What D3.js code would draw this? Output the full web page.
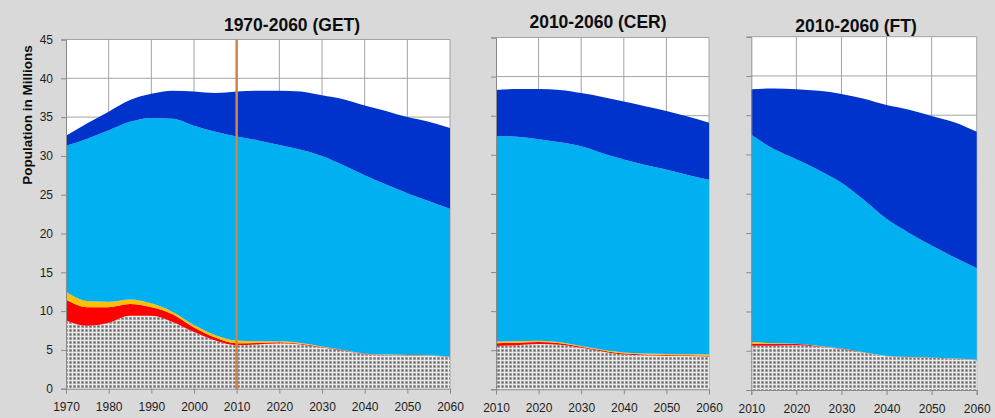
<!DOCTYPE html>
<html><head><meta charset="utf-8">
<script src="https://cdn.jsdelivr.net/npm/d3@7"></script>
<style>
html,body{margin:0;padding:0;background:#d9d9d9;}
svg{display:block;font-family:"Liberation Sans",Arial,sans-serif;}
</style></head>
<body>
<svg id="chart" width="995" height="418"></svg>
<script>
// ---------- DATA ----------
const layerNames = ["dotted", "red", "yellow", "lightBlue", "darkBlue"];
const layerColors = ["url(#dots)", "#ff0000", "#ffc000", "#00b0f0", "#0033cc"];

const getYears   = [1970,1975,1980,1985,1990,1995,2000,2005,2010,2015,2020,2025,2030,2035,2040,2045,2050,2055,2060];
const getDotted  = [8.8,8.1,8.5,9.4,9.4,8.6,7.3,6.2,5.6,5.7,5.85,5.7,5.3,4.9,4.45,4.3,4.25,4.25,4.05];
const getRed     = [2.7,2.4,2.0,1.5,1.1,1.0,0.6,0.4,0.25,0.2,0.15,0.1,0.08,0.06,0.05,0.05,0.05,0.03,0.03];
const getYellow  = [1.0,0.8,0.7,0.6,0.5,0.3,0.3,0.3,0.35,0.2,0.1,0.1,0.07,0.04,0.05,0.05,0.05,0.04,0.04];
const getLight   = [18.8,20.9,22.1,22.9,23.9,24.9,25.7,26.2,26.3,25.9,25.3,24.9,24.55,23.8,22.95,21.9,20.85,19.88,19.08];
const getDark    = [1.3,2.0,2.4,2.8,3.1,3.6,4.4,5.0,5.8,6.4,7.0,7.5,7.8,8.5,9.0,9.5,9.8,10.2,10.4];

const cerYears   = [2010,2015,2020,2025,2030,2035,2040,2045,2050,2055,2060];
const cerDotted  = [5.55,5.65,5.8,5.7,5.3,4.85,4.45,4.35,4.3,4.25,4.2];
const cerRed     = [0.35,0.3,0.25,0.2,0.15,0.12,0.12,0.1,0.1,0.1,0.1];
const cerYellow  = [0.2,0.2,0.15,0.12,0.1,0.1,0.13,0.12,0.1,0.12,0.15];
const cerLight   = [26.3,26.15,25.8,25.58,25.55,25.13,24.7,24.13,23.6,22.93,22.35];
const cerDark    = [5.9,6.1,6.4,6.7,6.8,7.2,7.4,7.5,7.5,7.5,7.3];

const ftYears    = [2010,2015,2020,2025,2030,2035,2040,2045,2050,2055,2060];
const ftDotted   = [5.65,5.65,5.7,5.5,5.2,4.75,4.3,4.15,4.1,3.95,3.8];
const ftRed      = [0.25,0.2,0.15,0.08,0.06,0.04,0.03,0.03,0.03,0.03,0.03];
const ftYellow   = [0.2,0.12,0.05,0.04,0.04,0.03,0.02,0.02,0.02,0.02,0.02];
const ftLight    = [26.4,24.73,23.5,22.38,21.1,19.38,17.45,15.8,14.25,12.9,11.65];
const ftDark     = [5.8,7.7,8.9,10.1,11.3,12.9,14.5,15.7,16.5,17.2,17.4];

const yTicks     = [0,5,10,15,20,25,30,35,40,45];
const getXTicks  = [1970,1980,1990,2000,2010,2020,2030,2040,2050,2060];
const futXTicks  = [2010,2020,2030,2040,2050,2060];
const titles     = ["1970-2060 (GET)", "2010-2060 (CER)", "2010-2060 (FT)"];
const yAxisTitle = "Population in Millions";
const markerYear = 2010;

// ---------- LAYOUT ----------
const svg = d3.select("#chart");
const defs = svg.append("defs");
const pat = defs.append("pattern").attr("id","dots").attr("patternUnits","userSpaceOnUse")
  .attr("width",4).attr("height",4);
pat.append("rect").attr("width",4).attr("height",4).attr("fill","#c2c2c2");
pat.append("rect").attr("x",0).attr("y",0).attr("width",4).attr("height",1).attr("fill","#e8e8e8");
pat.append("rect").attr("x",0).attr("y",0).attr("width",1).attr("height",4).attr("fill","#e8e8e8");
pat.append("rect").attr("x",1.5).attr("y",1.5).attr("width",2).attr("height",2).attr("fill","#666666");

const panels = [
  {years:getYears, layers:[getDotted,getRed,getYellow,getLight,getDark], xTicks:getXTicks,
   x0:66, x1:450, yTop:39.5, yBot:388.7, title:titles[0], tx:292, ty:31, yLabels:true, marker:true},
  {years:cerYears, layers:[cerDotted,cerRed,cerYellow,cerLight,cerDark], xTicks:futXTicks,
   x0:496, x1:709, yTop:37.5, yBot:389.3, title:titles[1], tx:598, ty:28, yLabels:false, marker:false},
  {years:ftYears, layers:[ftDotted,ftRed,ftYellow,ftLight,ftDark], xTicks:futXTicks,
   x0:751.3, x1:976.7, yTop:36.7, yBot:390, title:titles[2], tx:856, ty:32, yLabels:false, marker:false}
];

panels.forEach(p => {
  const x = d3.scaleLinear().domain([p.years[0], p.years[p.years.length-1]]).range([p.x0, p.x1]);
  const y = d3.scaleLinear().domain([0,45]).range([p.yBot, p.yTop]);
  const g = svg.append("g");

  g.append("rect").attr("x",p.x0).attr("y",p.yTop).attr("width",p.x1-p.x0).attr("height",p.yBot-p.yTop).attr("fill","#ffffff");

  g.append("g").selectAll("line").data(yTicks.filter(t=>t>0)).join("line")
    .attr("x1",p.x0).attr("x2",p.x1).attr("y1",d=>y(d)).attr("y2",d=>y(d))
    .attr("stroke","#a3a3a3").attr("stroke-width",1);
  g.append("g").selectAll("line").data(p.xTicks.slice(1)).join("line")
    .attr("x1",d=>x(d)).attr("x2",d=>x(d)).attr("y1",p.yTop).attr("y2",p.yBot)
    .attr("stroke","#a3a3a3").attr("stroke-width",1);

  const rows = p.years.map((yr,i) => {
    const o = {year:yr};
    layerNames.forEach((n,k) => o[n] = p.layers[k][i]);
    return o;
  });
  const series = d3.stack().keys(layerNames)(rows);
  const area = d3.area().curve(d3.curveMonotoneX)
    .x(d=>x(d.data.year)).y0(d=>y(d[0])).y1(d=>y(d[1]));
  g.append("g").selectAll("path").data(series).join("path")
    .attr("d",area).attr("fill",(d,i)=>layerColors[i]);

  const yAxis = d3.axisLeft(y).tickValues(yTicks).tickSize(5).tickPadding(8)
    .tickFormat(p.yLabels ? d3.format("d") : "");
  const ya = g.append("g").attr("transform",`translate(${p.x0},0)`).call(yAxis);
  const xAxis = d3.axisBottom(x).tickValues(p.xTicks).tickSize(5).tickPadding(9).tickFormat(d3.format("d"));
  const xa = g.append("g").attr("transform",`translate(0,${p.yBot})`).call(xAxis);
  [ya,xa].forEach(a => {
    a.select(".domain").attr("stroke","#8a8a8a").attr("stroke-width",1);
    a.selectAll(".tick line").attr("stroke","#8a8a8a");
    a.selectAll(".tick text").attr("fill","#1e1e1e").style("font-size","12px");
  });

  if (p.marker) {
    g.append("line").attr("x1",x(markerYear)).attr("x2",x(markerYear))
      .attr("y1",p.yTop).attr("y2",p.yBot+1).attr("stroke","#d6843f").attr("stroke-width",2.5);
  }

  svg.append("text").attr("x",p.tx).attr("y",p.ty).attr("text-anchor","middle")
    .style("font-size","17.5px").style("font-weight","bold").attr("fill","#0d0d0d").text(p.title);
});

svg.append("text").attr("transform","translate(32,115) rotate(-90)").attr("text-anchor","middle")
  .style("font-size","13.5px").style("font-weight","bold").attr("fill","#0d0d0d").text(yAxisTitle);
</script>
</body></html>
